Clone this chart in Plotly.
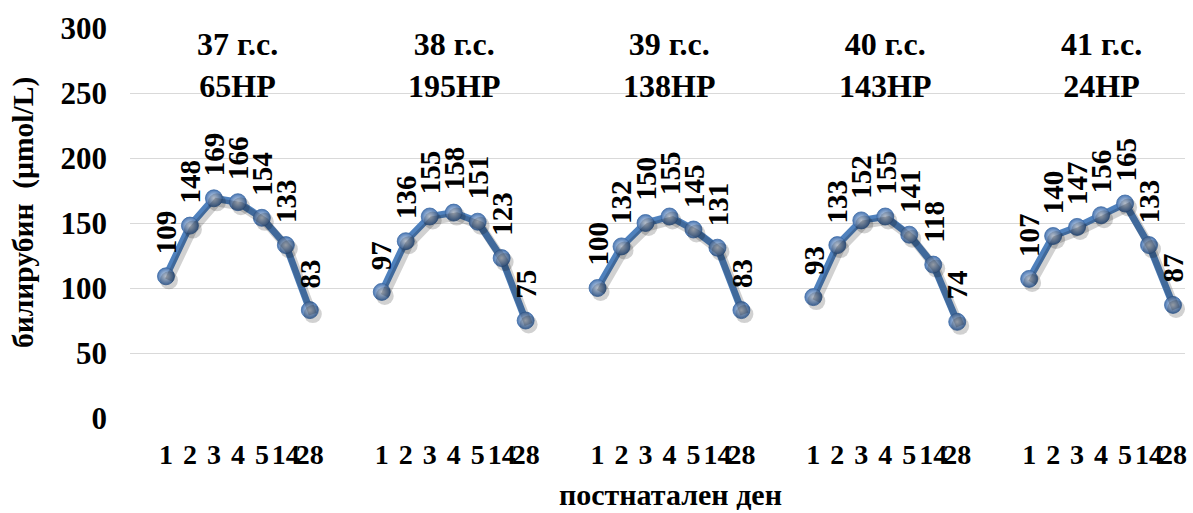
import plotly.graph_objects as go

# Postnatal days measured in every gestational-age group
days = ["1", "2", "3", "4", "5", "14", "28"]

# Gestational-age groups and number of newborns in each
group_weeks = ["37 г.с.", "38 г.с.", "39 г.с.", "40 г.с.", "41 г.с."]
group_sizes = ["65НР", "195НР", "138НР", "143НР", "24НР"]

# Mean bilirubin (µmol/L) per postnatal day
bili_37 = [109, 148, 169, 166, 154, 133, 83]
bili_38 = [97, 136, 155, 158, 151, 123, 75]
bili_39 = [100, 132, 150, 155, 145, 131, 83]
bili_40 = [93, 133, 152, 155, 141, 118, 74]
bili_41 = [107, 140, 147, 156, 165, 133, 87]

series = [bili_37, bili_38, bili_39, bili_40, bili_41]

FONT = "Liberation Serif"
LINE = "#4F81BD"
EDGE = "#4B77B2"
CORE = "#DDE7F5"
GRID = "#D9D9D9"

W, H = 1193, 513
ML, MR, MT, MB = 130, 8, 28, 95
PW, PH = W - ML - MR, H - MT - MB
SLOT = 9  # category slots per group (7 days + 2 blanks)
XR = [-0.5, 43.5]
YR = [0, 300]
YTICKS = [0, 50, 100, 150, 200, 250, 300]

# pixel size of one data unit, used to offset the drop-shadow axes
px_x = PW / (XR[1] - XR[0])
px_y = PH / (YR[1] - YR[0])
sdx, sdy = 3, 4

fig = go.Figure()

tickvals, ticktext = [], []
annotations = []
for g, vals in enumerate(series):
    xs = [1 + SLOT * g + i for i in range(len(days))]
    tickvals += xs
    ticktext += days

    # soft drop shadow drawn on an overlay axis shifted by a few pixels
    fig.add_trace(go.Scatter(
        x=xs, y=vals, mode="lines+markers", xaxis="x2", yaxis="y2",
        line=dict(color="rgba(0,0,0,0.18)", width=8.5),
        marker=dict(size=18, color="rgba(0,0,0,0.18)"),
        hoverinfo="skip", showlegend=False,
    ))
    fig.add_trace(go.Scatter(
        x=xs, y=vals, mode="lines+markers",
        line=dict(color=LINE, width=7),
        marker=dict(size=17, color=EDGE,
                    gradient=dict(type="radial", color=CORE),
                    line=dict(width=0.8, color="#3E6BA6")),
        showlegend=False,
    ))
    for x, v in zip(xs, vals):
        annotations.append(dict(
            x=x, y=v, xref="x", yref="y", text=f"<b>{v}</b>", showarrow=False,
            textangle=-90, xanchor="center", yanchor="bottom", yshift=20,
            font=dict(family=FONT, size=29),
        ))
    annotations.append(dict(
        x=xs[3], y=1, xref="x", yref="paper", yshift=4,
        text=f"<b>{group_weeks[g]}</b><br><b>{group_sizes[g]}</b>", showarrow=False,
        xanchor="center", yanchor="top", align="center",
        font=dict(family=FONT, size=32),
    ))

# axis titles
annotations.append(dict(
    x=(23 - ML) / PW, y=(H - MB - 213) / PH, xref="paper", yref="paper",
    text="<b>билирубин\u00a0 (µmol/L)</b>", showarrow=False, textangle=-90,
    xanchor="center", yanchor="middle",
    font=dict(family=FONT, size=29.5),
))
annotations.append(dict(
    x=(670 - ML) / PW, y=(H - MB - 494) / PH,
    xref="paper", yref="paper", text="<b>постнатален ден</b>", showarrow=False,
    xanchor="center", yanchor="middle",
    font=dict(family=FONT, size=30),
))

fig.update_layout(
    width=W, height=H,
    font=dict(family=FONT, color="black"),
    margin=dict(l=ML, r=MR, t=MT, b=MB, autoexpand=False),
    paper_bgcolor="white", plot_bgcolor="white",
    annotations=annotations,
    xaxis=dict(range=XR, tickmode="array", tickvals=tickvals,
               ticktext=[f"<b>{t}</b>" for t in ticktext],
               tickangle=0, showgrid=False, zeroline=False, showline=False,
               ticks="", ticklabelstandoff=17,
               tickfont=dict(family=FONT, size=28)),
    yaxis=dict(range=YR, tickmode="array", tickvals=YTICKS,
               ticktext=[f"<b>{t}</b>" for t in YTICKS],
               showgrid=True, gridcolor=GRID, gridwidth=1, zeroline=False,
               showline=False, ticks="", ticklabelstandoff=22,
               tickfont=dict(family=FONT, size=31)),
    xaxis2=dict(range=[XR[0] - sdx / px_x, XR[1] - sdx / px_x], overlaying="x",
                visible=False),
    yaxis2=dict(range=[YR[0] + sdy / px_y, YR[1] + sdy / px_y], overlaying="y",
                visible=False),
)

fig.write_html("out.html")
